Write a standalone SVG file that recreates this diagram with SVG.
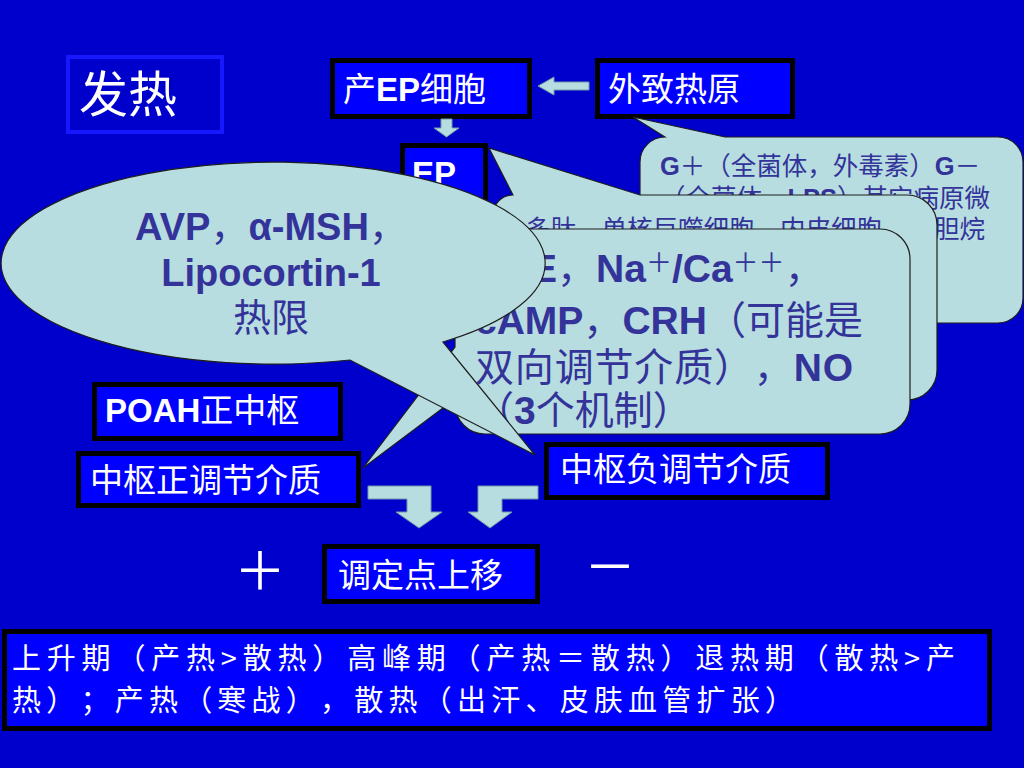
<svg xmlns="http://www.w3.org/2000/svg" width="1024" height="768" viewBox="0 0 1024 768">
<style>
text{text-spacing-trim:space-all}
.box{fill:#0000FF;stroke:#000;stroke-width:5}
.wt{fill:#FFFFFF;font-family:"Noto Sans CJK SC","Liberation Sans",sans-serif;font-size:33px}
.call{fill:#B7DDE0;stroke:#1E1E1E;stroke-width:1.2}
.ct{fill:#333399;font-family:"Liberation Sans","Noto Sans CJK SC",sans-serif}
.b{font-family:"Liberation Sans",sans-serif;font-weight:bold}
.arw{fill:#B7DDE0;stroke:#6E9AA5;stroke-width:1}
</style>
<rect x="0" y="0" width="1024" height="768" fill="#0000CC"/>

<g id="title">
<rect x="68" y="57" width="154" height="75" fill="#0000CC" stroke="#1818FF" stroke-width="4"/>
<text x="79" y="112" class="wt" style="font-size:49px">发热</text>
</g>

<g id="node-ep-cells">
<rect class="box" x="332.5" y="60.5" width="197" height="56"/>
<text x="343" y="101" class="wt">产<tspan class="b">EP</tspan>细胞</text>
</g>
<g id="node-exo-pyrogen">
<rect class="box" x="597.5" y="60.5" width="195" height="56"/>
<text x="608" y="101" class="wt">外致热原</text>
</g>
<g id="node-ep">
<rect class="box" x="402.5" y="145.5" width="83" height="80"/>
<text x="412" y="185" class="wt b">EP</text>
</g>
<g id="node-poah">
<rect class="box" x="94.5" y="384.5" width="246" height="54"/>
<text x="105" y="422" class="wt"><tspan class="b">POAH</tspan>正中枢</text>
</g>
<g id="node-pos-mediator">
<rect class="box" x="78.5" y="453.5" width="280" height="52"/>
<text x="90" y="492" class="wt">中枢正调节介质</text>
</g>
<g id="node-neg-mediator">
<rect class="box" x="546.5" y="444.5" width="281" height="53"/>
<text x="560" y="481" class="wt">中枢负调节介质</text>
</g>
<g id="node-setpoint">
<rect class="box" x="324.5" y="546.5" width="213" height="55"/>
<text x="338" y="587" class="wt">调定点上移</text>
</g>
<g id="signs">
<text x="260" y="590" class="wt" text-anchor="middle" style="font-size:52px">＋</text>
<text x="610" y="586" class="wt" text-anchor="middle" style="font-size:52px">－</text>
</g>
<g id="node-phases">
<rect class="box" x="4.5" y="631.5" width="985" height="97"/>
<text class="wt" style="font-size:29px"><tspan x="12" y="669" textLength="943" lengthAdjust="spacing">上升期（产热&gt;散热）高峰期（产热＝散热）退热期（散热&gt;产</tspan><tspan x="12" y="711" textLength="782" lengthAdjust="spacing">热）；产热（寒战），散热（出汗、皮肤血管扩张）</tspan></text>
</g>

<g id="connectors">
<polygon class="arw" points="538,86 554,77 554,82 589,82 589,90 554,90 554,95"/>
<polygon class="arw" points="441,119 452,119 452,128 459,128 446.5,137 434,128 441,128"/>
<polygon class="arw" points="368,486 431,486 431,512 442,512 419,528 396,512 407,512 407,499 368,499"/>
<polygon class="arw" points="538,486 478,486 478,512 468,512 490,528 512,512 502,512 502,499 538,499"/>
</g>

<g id="callout-exogenous">
<path class="call" d="M665,137 L633,117 L725,137 L998,137 A25,25 0 0 1 1023,162 L1023,298 A25,25 0 0 1 998,323 L665,323 A25,25 0 0 1 640,298 L640,162 A25,25 0 0 1 665,137 Z"/>
<text class="ct" x="660" y="175" style="font-size:25.5px"><tspan class="b">G</tspan>＋（全菌体，外毒素）<tspan class="b">G</tspan>－</text>
<text class="ct" x="660" y="207" style="font-size:25.5px">（全菌体，<tspan class="b">LPS</tspan>）其它病原微</text>
<text class="ct" x="985" y="238" text-anchor="end" style="font-size:25.5px">胆烷</text>
</g>

<g id="callout-ep-cells">
<path class="call" d="M513,195 L489,148 L640,195 L907,195 A30,30 0 0 1 937,225 L937,370 A30,30 0 0 1 907,400 L523,400 A30,30 0 0 1 493,370 L493,215 A20,20 0 0 1 513,195 Z"/>
<text class="ct" x="525" y="238" style="font-size:25.5px">多肽，单核巨噬细胞，内皮细胞、</text>
</g>

<g id="callout-positive">
<path class="call" d="M485,229 L880,229 A30,30 0 0 1 910,259 L910,404 A30,30 0 0 1 880,434 L485,434 A30,30 0 0 1 455,404 L455,399 L363,468 L455,347 L455,259 A30,30 0 0 1 485,229 Z"/>
<text class="ct" x="531" y="282" style="font-size:39px"><tspan class="b">E</tspan>，<tspan class="b">Na</tspan><tspan style="font-size:26px" dy="-10">＋</tspan><tspan class="b" dy="10">/Ca</tspan><tspan style="font-size:26px" dy="-10">＋＋</tspan><tspan dy="10">，</tspan></text>
<text class="ct" x="475" y="334" style="font-size:39px"><tspan class="b">cAMP</tspan>，<tspan class="b">CRH</tspan>（可能是</text>
<text class="ct" x="475" y="381" style="font-size:39px" textLength="378" lengthAdjust="spacing">双向调节介质），<tspan class="b">NO</tspan></text>
<text class="ct" x="475" y="424" style="font-size:39px">（<tspan class="b">3</tspan>个机制）</text>
</g>

<g id="callout-negative">
<path class="call" d="M443,342 L535,455 L350,360 A272,101 0 1 1 443,342 Z"/>
<text class="ct" x="271" y="240" text-anchor="middle" style="font-size:38px"><tspan class="b">AVP</tspan>，<tspan class="b">α-MSH</tspan>，</text>
<text class="ct b" x="271" y="286" text-anchor="middle" style="font-size:38px">Lipocortin-1</text>
<text class="ct" x="271" y="331" text-anchor="middle" style="font-size:38px">热限</text>
</g>
</svg>
